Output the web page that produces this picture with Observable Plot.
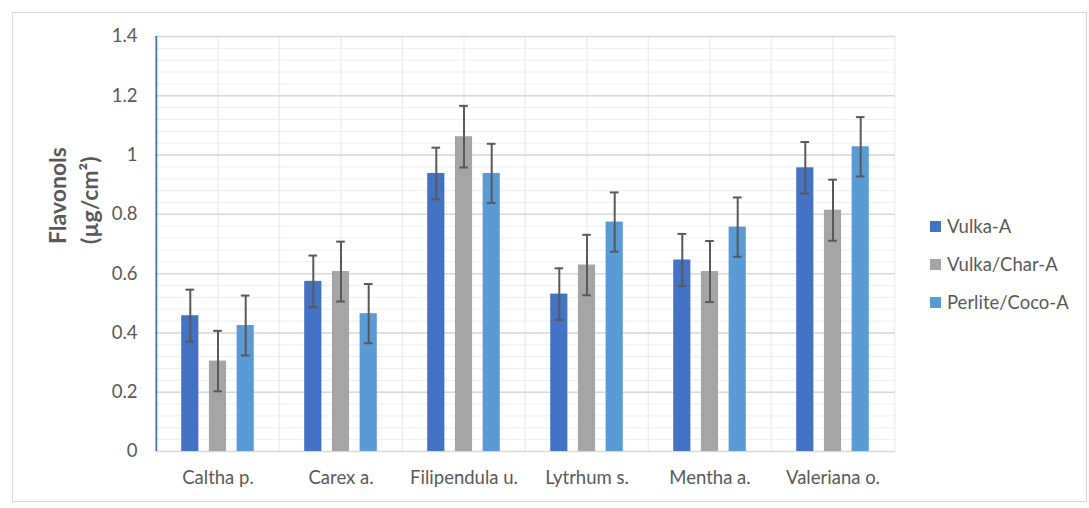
<!DOCTYPE html>
<html>
<head>
<meta charset="utf-8">
<script src="https://cdn.jsdelivr.net/npm/d3@7"></script>
<script src="https://cdn.jsdelivr.net/npm/@observablehq/plot@0.6"></script>
<style>
  html, body { margin: 0; padding: 0; background: #fff; }
  #wrap { position: relative; width: 1089px; height: 508px; overflow: hidden; font-family: Lato, sans-serif; }
  #border { position: absolute; left: 12px; top: 12px; width: 1073px; height: 488px; border: 1.5px solid #d9d9d9; pointer-events: none; }
  #legend { position: absolute; left: 930px; top: 207px; color: #595959; font-size: 18.5px; }
  .item { display: flex; align-items: center; height: 38px; }
  .sw { width: 11px; height: 11px; margin-right: 6px; }
</style>
</head>
<body>
<div id="wrap"><div id="chart"></div><div id="legend"></div><div id="border"></div></div>
<script>
// ---- data ----
const categories = ["Caltha p.", "Carex a.", "Filipendula u.", "Lytrhum s.", "Mentha a.", "Valeriana o."];
const seriesNames = ["Vulka-A", "Vulka/Char-A", "Perlite/Coco-A"];
const seriesColors = ["#4472C4", "#A5A5A5", "#5B9BD5"];
const vulkaA = [0.458, 0.574, 0.938, 0.531, 0.646, 0.957];
const vulkaAErr = [0.088, 0.087, 0.087, 0.087, 0.088, 0.087];
const vulkaChar = [0.305, 0.607, 1.062, 0.629, 0.607, 0.814];
const vulkaCharErr = [0.102, 0.101, 0.104, 0.102, 0.103, 0.103];
const perliteCoco = [0.425, 0.465, 0.938, 0.774, 0.757, 1.028];
const perliteCocoErr = [0.101, 0.100, 0.100, 0.100, 0.100, 0.100];
const yTicks = [0, 0.2, 0.4, 0.6, 0.8, 1, 1.2, 1.4];
const yTickLabels = ["0", "0.2", "0.4", "0.6", "0.8", "1", "1.2", "1.4"];
const yMinorTicks = d3.range(0, 1.4001, 0.04);
const yTitle = "Flavonols\n(µg/cm²)";

// ---- table ----
const seriesValues = [vulkaA, vulkaChar, perliteCoco];
const seriesErrs = [vulkaAErr, vulkaCharErr, perliteCocoErr];
const rows = [];
seriesNames.forEach((s, si) => categories.forEach((c, ci) => rows.push({
  category: c, series: s, value: seriesValues[si][ci], err: seriesErrs[si][ci]
})));

// ---- layout ----
const W = 1089, H = 508;
const mL = 155, mR = 194, mT = 36, mB = 57;
const bw = (W - mL - mR) / categories.length;
const barW = 17.5, pitch = 27.7, capW = 9;
const offsets = [-pitch, 0, pitch];

const marks = [
  Plot.ruleY(yMinorTicks, {y: d => d, stroke: "#eeeeee", strokeWidth: 1}),
  Plot.ruleX(categories, {x: d => d, stroke: "#eeeeee", strokeWidth: 1.5}),
  Plot.ruleX(categories.slice(1), {x: d => d, dx: -bw / 2, stroke: "#eeeeee", strokeWidth: 1.5}),
  Plot.ruleX(categories.slice(-1), {x: d => d, dx: bw / 2, stroke: "#eeeeee", strokeWidth: 1.5}),
  Plot.ruleY(yTicks, {y: d => d, stroke: "#d9d9d9", strokeWidth: 1.5}),
  Plot.ruleX(categories.slice(0, 1), {x: d => d, dx: -bw / 2, stroke: "#4472C4", strokeWidth: 1.8})
];
seriesNames.forEach((s, si) => {
  const data = rows.filter(r => r.series === s);
  const inset = (bw - barW) / 2, capInset = (bw - capW) / 2;
  marks.push(
    Plot.barY(data, {x: "category", y: "value", fill: seriesColors[si], dx: offsets[si], insetLeft: inset, insetRight: inset}),
    Plot.ruleX(data, {x: "category", y1: d => d.value - d.err, y2: d => d.value + d.err, dx: offsets[si], stroke: "#595959", strokeWidth: 2}),
    Plot.tickY(data, {x: "category", y: d => d.value + d.err, dx: offsets[si], insetLeft: capInset, insetRight: capInset, stroke: "#595959", strokeWidth: 2}),
    Plot.tickY(data, {x: "category", y: d => d.value - d.err, dx: offsets[si], insetLeft: capInset, insetRight: capInset, stroke: "#595959", strokeWidth: 2})
  );
});
marks.push(
  Plot.axisX({tickSize: 0, tickPadding: 19, label: null}),
  Plot.axisY({ticks: yTicks, tickFormat: (d, i) => yTickLabels[yTicks.indexOf(d)], tickSize: 0, tickPadding: 18, label: null}),
  Plot.text([yTitle], {text: d => d, frameAnchor: "left", rotate: -90, dx: -84, fontSize: 23, fontWeight: "bold", lineHeight: 1.4, fill: "#595959"})
);

const plot = Plot.plot({
  width: W, height: H,
  marginLeft: mL, marginRight: mR, marginTop: mT, marginBottom: mB,
  x: {domain: categories, padding: 0},
  y: {domain: [0, 1.4]},
  style: {fontFamily: "Lato, sans-serif", fontSize: "18.5px", color: "#595959", background: "transparent"},
  marks
});
document.getElementById("chart").appendChild(plot);

// ---- legend ----
const legend = document.getElementById("legend");
seriesNames.forEach((s, i) => {
  const it = document.createElement("div");
  it.className = "item";
  const sw = document.createElement("div");
  sw.className = "sw"; sw.style.background = seriesColors[i];
  const tx = document.createElement("span");
  tx.textContent = s;
  it.appendChild(sw); it.appendChild(tx);
  legend.appendChild(it);
});
</script>
</body>
</html>
